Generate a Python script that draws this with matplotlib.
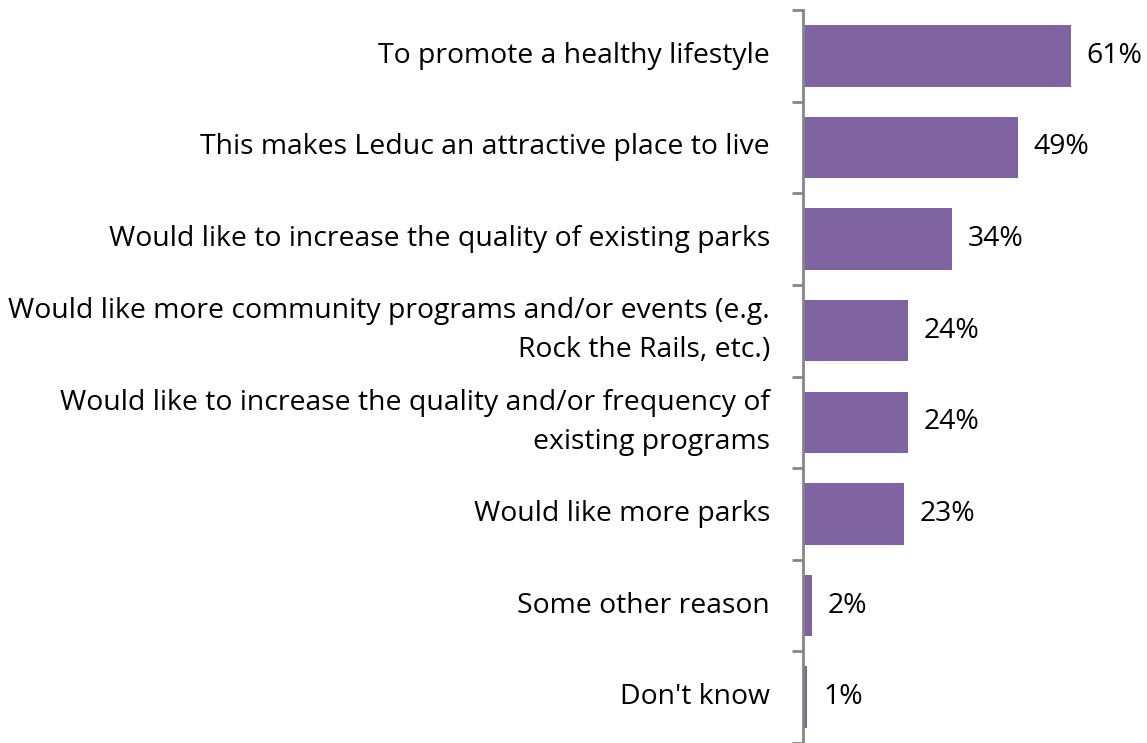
import matplotlib.pyplot as plt

# Kategoriler ve yuzdeler
categories = [
    'To promote a healthy lifestyle',
    'This makes Leduc an attractive place to live',
    'Would like to increase the quality of existing parks',
    'Would like more community programs and/or events (e.g.\nRock the Rails, etc.)',
    'Would like to increase the quality and/or frequency of\nexisting programs',
    'Would like more parks',
    'Some other reason',
    "Don't know",
]
values = [61, 49, 34, 24, 24, 23, 2, 1]
value_labels = ['61%', '49%', '34%', '24%', '24%', '23%', '2%', '1%']

plt.rcParams['font.family'] = ['Open Sans', 'DejaVu Sans']

fig = plt.figure(figsize=(11.47, 7.43), dpi=100)
ax = fig.add_axes([0.700, 0.0, 0.300, 0.9865])

pos = list(range(len(categories)))
ax.barh(pos, values, height=0.67, color='#8064A2')
ax.set_ylim(len(categories) - 0.5, -0.5)
ax.set_xlim(0, 78.4)

# deger etiketleri
for p, v, lab in zip(pos, values, value_labels):
    ax.text(v + 3.6, p, lab, va='center', ha='left', fontsize=20.4, color='black')

# kategori etiketleri
for p, cat in zip(pos, categories):
    ax.text(-7.5, p, cat, va='center', ha='right', fontsize=20.4, color='black',
            multialignment='right', linespacing=1.5)

ax.set_yticks([i - 0.5 for i in range(len(categories) + 1)])
ax.set_yticklabels([])
ax.tick_params(axis='y', direction='out', length=8, width=2, color='#868686')
ax.set_xticks([])
for side in ['top', 'right', 'bottom']:
    ax.spines[side].set_visible(False)
ax.spines['left'].set_color('#868686')
ax.spines['left'].set_linewidth(2)

fig.savefig('out.png', dpi=100)
